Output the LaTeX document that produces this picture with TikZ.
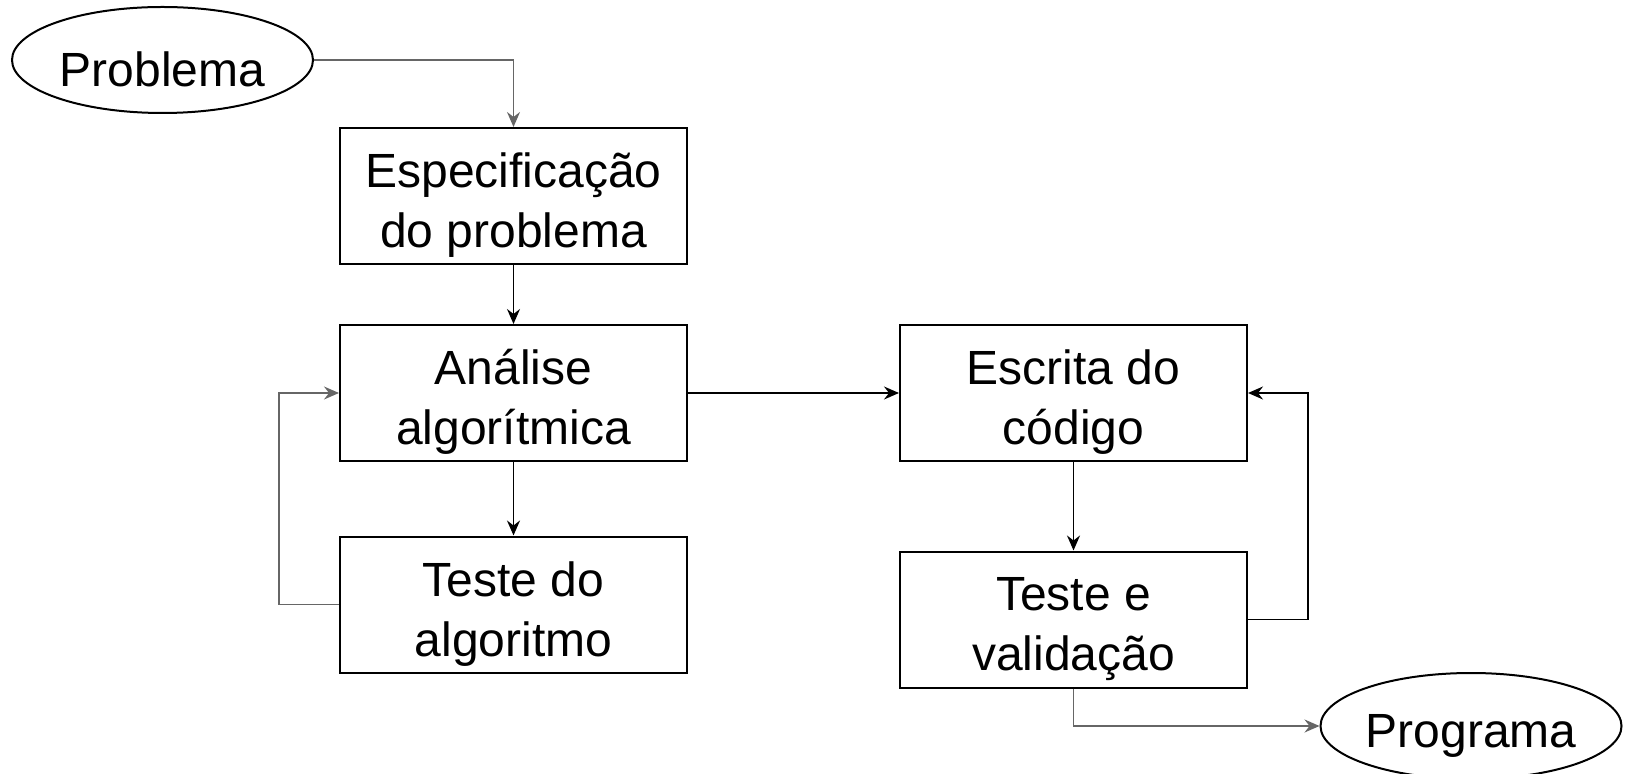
\documentclass[tikz,border=0pt]{standalone}
\usepackage{fontspec}
\setmainfont{Liberation Sans}
\usetikzlibrary{positioning, shapes.geometric, arrows.meta}

\definecolor{linegray}{HTML}{666666}

\tikzset{
    box/.style={draw, line width=1pt, minimum width=173.5pt, minimum height=68pt,
        inner sep=0pt, align=center, font=\fontsize{24}{30}\selectfont,
        execute at begin node={\rule{0pt}{56.5pt}}},
    term/.style={draw, ellipse, line width=1pt, minimum width=150.5pt, minimum height=53pt,
        inner sep=0pt, font=\fontsize{24}{30}\selectfont,
        execute at begin node={\rule{0pt}{26.5pt}}},
    flow/.style={line width=0.8pt, -{Stealth[length=7.5pt, width=6.5pt, inset=2.5pt]}},
    flowgray/.style={flow, draw=linegray}
}

\begin{document}
\begin{tikzpicture}[x=0.5pt, y=-0.5pt]
    \useasboundingbox (0,0) rectangle (1625,774);

    % Terminals
    \node[term] (problema) at (162.5,60) {Problema};
    \node[term] (programa) at (1471,726) {Programa};

    % Left column
    \node[box] (espec) at (513.5,196) {Especificação\\do problema};
    \node[box] (analise) at (513.5,393) {Análise\\algorítmica};
    \node[box] (testealg) at (513.5,604.5) {Teste do\\algoritmo};

    % Right column
    \node[box] (escrita) at (1073.5,393) {Escrita do\\código};
    \node[box] (testeval) at (1073.5,619.5) {Teste e\\validação};

    % Connectors
    \draw[flowgray] (problema.east) -| (espec.north);
    \draw[flow] (espec) -- (analise);
    \draw[flow] (analise) -- (testealg);
    \draw[flowgray] (testealg.west) -- ++(-60,0) |- (analise.west);
    \draw[flow] (analise) -- (escrita);
    \draw[flow] (escrita) -- (testeval);
    \draw[flow] (testeval.east) -- ++(60,0) |- (escrita.east);
    \draw[flowgray] (testeval.south) |- (programa.west);
\end{tikzpicture}
\end{document}
